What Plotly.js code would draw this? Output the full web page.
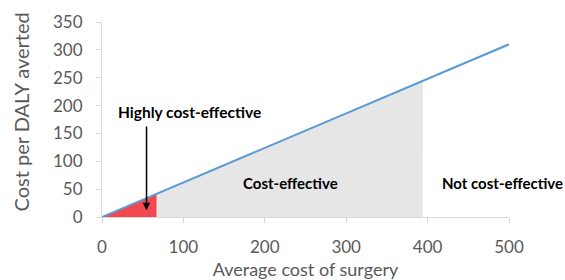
<!DOCTYPE html>
<html>
<head>
<meta charset="utf-8">
<script src="https://cdn.plot.ly/plotly-3.0.1.min.js"></script>
<style>html,body{margin:0;padding:0;background:#fff;}#chart{width:565px;height:280px;}</style>
</head>
<body>
<div id="chart"></div>
<script>
// Data
const lineX = [0, 500];
const lineY = [0, 310];
const highlyX = [0, 67];
const highlyY = [0, 41.5];
const costEffX = [67, 394];
const costEffY = [41.5, 244];
const xTicks = [0, 100, 200, 300, 400, 500];
const yTicks = [0, 50, 100, 150, 200, 250, 300, 350];

const font = "Lato, 'Open Sans', sans-serif";
const traces = [
  {x: costEffX, y: costEffY, type: 'scatter', mode: 'none', fill: 'tozeroy',
   fillcolor: '#e6e6e6', hoverinfo: 'skip', showlegend: false},
  {x: highlyX, y: highlyY, type: 'scatter', mode: 'none', fill: 'tozeroy',
   fillcolor: '#f2474f', hoverinfo: 'skip', showlegend: false},
  {x: lineX, y: lineY, type: 'scatter', mode: 'lines',
   line: {color: '#5b9bd5', width: 2}, showlegend: false}
];
const layout = {
  width: 565, height: 280,
  margin: {l: 102, r: 56, t: 22, b: 63},
  paper_bgcolor: '#fff', plot_bgcolor: '#fff',
  font: {family: font, color: '#595959', size: 17},
  xaxis: {range: [0, 500], tickvals: xTicks, showgrid: false, zeroline: false,
          showline: true, linecolor: '#d9d9d9', linewidth: 1,
          ticks: 'outside', ticklen: 5, tickcolor: '#d9d9d9', ticklabelstandoff: 10,
          tickfont: {size: 17, color: '#595959'},
          title: {text: 'Average cost of surgery', font: {size: 18, color: '#595959'}, standoff: 6}},
  yaxis: {range: [0, 350], tickvals: yTicks, showgrid: false, zeroline: false,
          showline: true, linecolor: '#d9d9d9', linewidth: 1,
          ticks: 'outside', ticklen: 5, tickcolor: '#d9d9d9', ticklabelstandoff: 10,
          tickfont: {size: 17, color: '#595959'}},
  annotations: [
    {x: -0.199, y: 0.536, xref: 'paper', yref: 'paper', xanchor: 'center', yanchor: 'middle',
     textangle: -90, text: 'Cost per DALY averted', showarrow: false,
     font: {family: font, size: 20, color: '#595959'}},
    {x: 54.7, y: 12, ax: 54.7, ay: 165, xref: 'x', yref: 'y', axref: 'x', ayref: 'y',
     showarrow: true, arrowhead: 2, arrowsize: 1, arrowwidth: 1.5, arrowcolor: '#000', text: ''},
    {x: 108, y: 188, xref: 'x', yref: 'y', text: '<b>Highly cost-effective</b>', showarrow: false,
     font: {family: font, size: 15.5, color: '#000'}},
    {x: 231, y: 61, xref: 'x', yref: 'y', text: '<b>Cost-effective</b>', showarrow: false,
     font: {family: font, size: 15, color: '#000'}},
    {x: 492, y: 61, xref: 'x', yref: 'y', text: '<b>Not cost-effective</b>', showarrow: false,
     font: {family: font, size: 15, color: '#000'}}
  ]
};
Plotly.newPlot('chart', traces, layout, {displayModeBar: false, staticPlot: true});
</script>
</body>
</html>
